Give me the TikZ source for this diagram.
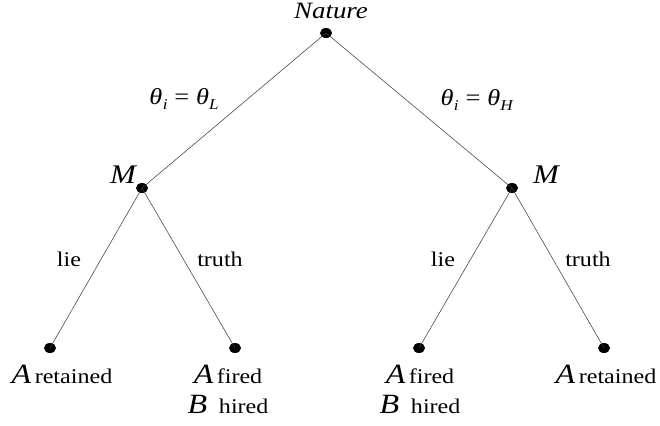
\documentclass[tikz,border=0pt]{standalone}
\usepackage{fontspec}
\setmainfont{Liberation Serif}[FakeStretch=1.15]
\usepackage{tikz}
\usetikzlibrary{positioning,shapes.geometric}
\tikzset{
  base/.style={font=\fontsize{21}{30}\selectfont, inner sep=0pt, anchor=base},
  dot/.style={ellipse, fill=black, minimum width=12bp, minimum height=10bp, inner sep=0pt},
  branch/.style={line width=0.55pt, draw=black!75},
  edgelabel/.style={base},
  player/.style={base, font=\itshape\fontsize{27}{29}\selectfont},
  outcome/.style={base, align=center},
}
\newcommand{\bigA}[1]{{\itshape\fontsize{28}{30}\selectfont #1}}
\newcommand{\thetalabel}[1]{{\fontsize{23}{26}\selectfont\textit{θ}\kern0.5pt\raisebox{-0.22em}{\fontsize{15}{16}\selectfont\textit{i}}\hspace{0.3em}=\hspace{0.3em}\textit{θ}\raisebox{-0.22em}{\fontsize{15}{16}\selectfont\textit{#1}}}}

\begin{document}
\begin{tikzpicture}[x=1bp,y=-1bp]
  \useasboundingbox (0,0) rectangle (660,425);

  \node[dot] (nature) at (326,33) {};
  \node[dot] (mL) at (142,188) {};
  \node[dot] (mH) at (512,188) {};
  \node[dot] (ll) at (50,348) {};
  \node[dot] (lt) at (235,348) {};
  \node[dot] (hl) at (419,348) {};
  \node[dot] (ht) at (604,348) {};

  \node[base, font=\itshape\fontsize{23.5}{26}\selectfont] (natureTxt) at (331,18) {Nature};
  \node[player] (mLTxt) at (123,183) {M};
  \node[player] (mHTxt) at (546,183) {M};

  \draw[branch] (nature.center) -- (mL.center);
  \draw[branch] (nature.center) -- (mH.center);
  \draw[branch] (mL.center) -- (ll.center);
  \draw[branch] (mL.center) -- (lt.center);
  \draw[branch] (mH.center) -- (hl.center);
  \draw[branch] (mH.center) -- (ht.center);

  \node[edgelabel] (thL) at (184,104) {\thetalabel{L}};
  \node[edgelabel] (thH) at (477,105) {\thetalabel{H}};
  \node[edgelabel] (lieL) at (69,266) {lie};
  \node[edgelabel] (truthL) at (220,266) {truth};
  \node[edgelabel] (lieH) at (443,266) {lie};
  \node[edgelabel] (truthH) at (588,266) {truth};

  \node[outcome] (llTxt) at (62,383) {\bigA{A}\,retained};
  \node[outcome] (ltTxt) at (228,413) {\bigA{A}\,fired\\\bigA{B}\; hired};
  \node[outcome] (hlTxt) at (420,413) {\bigA{A}\,fired\\\bigA{B}\; hired};
  \node[outcome] (htTxt) at (606,383) {\bigA{A}\,retained};
\end{tikzpicture}
\end{document}
